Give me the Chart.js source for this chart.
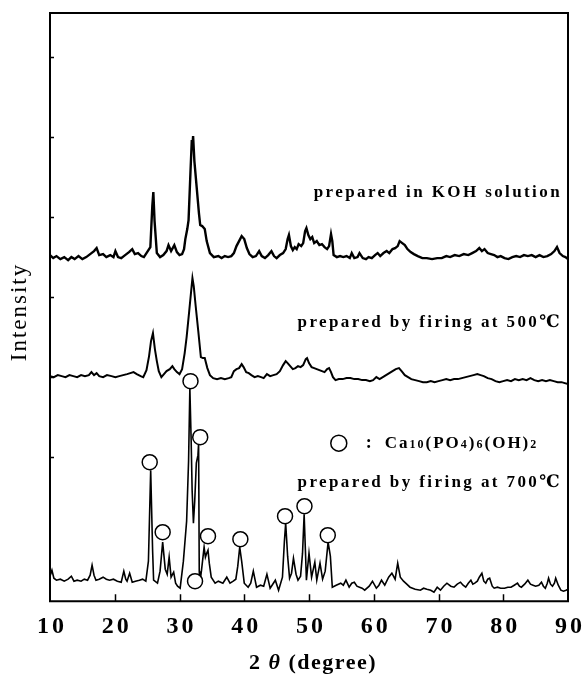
<!DOCTYPE html>
<html>
<head>
<meta charset="utf-8">
<script src="https://cdn.jsdelivr.net/npm/chart.js@4.4.0/dist/chart.umd.min.js"></script>
<style>
  html, body { margin: 0; padding: 0; background: #fff; }
  #wrap { width: 584px; height: 675px; }
</style>
</head>
<body>
<div id="wrap"><canvas id="xrd" width="584" height="675"></canvas></div>
<script>
// 2θ (deg), intensity (arb. units, curves already stacked as in the figure)
const kohPattern = [
  [10.0,346],[10.5,343],[11.0,345],[11.6,342],[12.2,344],[12.8,341],[13.3,344],[13.8,342],[14.4,345],[15.0,342],
  [15.6,344],[16.2,347],[16.8,350],[17.2,353],[17.6,346],[18.2,347],[18.7,344],[19.3,346],[19.8,344],[20.1,350],
  [20.5,344],[21.0,343],[21.6,346],[22.2,349],[22.7,352],[23.1,347],[23.6,348],[24.1,345],[24.5,344],[25.0,349],
  [25.5,354],[25.8,395],[25.96,409],[26.15,380],[26.5,348],[27.0,344],[27.5,346],[28.0,350],[28.3,356],[28.7,350],
  [29.2,356],[29.6,349],[30.0,346],[30.4,347],[30.7,352],[30.9,362],[31.2,372],[31.4,381],[31.7,430],[31.9,461],
  [32.0,455],[32.1,465],[32.3,440],[32.65,414],[33.0,388],[33.2,376],[33.5,375],[33.9,372],[34.2,360],[34.7,348],
  [35.3,344],[36.0,345],[36.5,343],[37.0,345],[37.5,344],[38.0,345],[38.4,348],[38.8,355],[39.2,360],[39.6,365],
  [40.0,362],[40.4,353],[40.8,347],[41.3,344],[41.8,345],[42.3,350],[42.7,345],[43.2,343],[43.7,346],[44.2,350],
  [44.6,345],[45.0,343],[45.5,346],[46.0,348],[46.4,352],[46.7,362],[46.9,366],[47.2,355],[47.5,351],[47.8,354],
  [48.1,352],[48.4,357],[48.8,355],[49.1,358],[49.4,370],[49.6,373],[49.9,366],[50.2,362],[50.5,364],[50.8,358],
  [51.2,360],[51.6,356],[52.0,357],[52.4,354],[52.8,352],[53.1,355],[53.4,367],[53.6,360],[53.8,346],[54.3,344],
  [54.8,345],[55.3,344],[55.8,345],[56.3,343],[56.6,348],[57.0,343],[57.5,344],[57.8,348],[58.3,343],[58.8,342],
  [59.2,344],[59.7,343],[60.2,346],[60.6,348],[61.0,345],[61.5,348],[62.0,350],[62.4,348],[62.9,352],[63.3,353],
  [63.7,355],[64.0,360],[64.4,358],[64.8,356],[65.2,352],[65.7,349],[66.2,347],[66.8,345],[67.5,343],[68.2,343],
  [69.0,342],[69.8,343],[70.5,343],[71.2,345],[71.8,344],[72.5,346],[73.2,345],[73.9,347],[74.6,346],[75.2,348],
  [75.8,350],[76.3,353],[76.7,350],[77.1,352],[77.6,348],[78.1,347],[78.6,346],[79.1,344],[79.6,345],[80.2,343],
  [80.8,342],[81.4,344],[82.0,345],[82.6,344],[83.2,346],[83.8,345],[84.4,346],[85.0,344],[85.6,346],[86.2,344],
  [86.8,345],[87.4,347],[87.9,350],[88.3,354],[88.7,348],[89.2,345],[89.6,344],[90.0,342]
];

const fired500Pattern = [
  [10.0,225],[10.6,224],[11.2,226],[11.8,225],[12.4,224],[13.0,226],[13.6,225],[14.2,224],[14.8,226],[15.4,225],
  [16.0,226],[16.4,229],[16.8,226],[17.2,228],[17.6,225],[18.2,224],[18.8,226],[19.5,225],[20.1,224],[20.7,225],
  [21.3,226],[21.9,227],[22.4,228],[22.9,229],[23.4,227],[24.0,225],[24.4,224],[24.9,231],[25.3,245],[25.6,260],
  [25.9,268],[26.2,252],[26.5,240],[26.8,230],[27.2,224],[27.6,227],[28.0,230],[28.5,232],[28.9,235],[29.2,232],
  [29.6,229],[30.0,227],[30.4,232],[30.8,248],[31.1,264],[31.5,290],[31.8,310],[32.0,323],[32.2,315],[32.5,295],
  [32.9,270],[33.3,244],[33.6,243],[33.9,243],[34.3,233],[34.7,226],[35.2,223],[35.8,222],[36.4,223],[37.0,222],
  [37.6,223],[38.0,224],[38.4,230],[38.8,232],[39.2,233],[39.6,237],[39.9,234],[40.3,229],[40.7,228],[41.1,226],
  [41.6,224],[42.1,225],[42.6,224],[43.0,223],[43.5,227],[44.0,225],[44.5,226],[45.0,227],[45.5,230],[46.0,236],
  [46.4,240],[46.7,238],[47.1,235],[47.5,232],[47.9,233],[48.3,235],[48.7,234],[49.1,236],[49.5,242],[49.7,243],
  [50.0,238],[50.4,234],[50.8,233],[51.2,232],[51.6,231],[52.0,230],[52.4,229],[52.8,232],[53.1,233],[53.4,229],
  [53.7,224],[54.1,221],[54.6,222],[55.2,222],[55.8,223],[56.4,223],[57.0,222],[57.6,222],[58.2,221],[58.8,221],
  [59.4,220],[59.9,221],[60.4,224],[60.9,222],[61.4,224],[61.9,226],[62.4,228],[62.9,230],[63.4,232],[63.9,233],
  [64.3,230],[64.8,226],[65.3,224],[65.8,222],[66.4,221],[67.0,220],[67.6,219],[68.2,219],[68.8,220],[69.4,219],
  [70.0,220],[70.6,221],[71.2,222],[71.8,221],[72.4,222],[73.0,222],[73.6,223],[74.2,224],[74.8,225],[75.4,226],
  [76.0,227],[76.5,226],[77.0,225],[77.6,223],[78.2,222],[78.8,220],[79.4,219],[80.0,220],[80.6,221],[81.2,220],
  [81.8,222],[82.4,221],[83.0,222],[83.6,221],[84.2,223],[84.8,221],[85.4,220],[86.0,221],[86.6,220],[87.2,221],
  [87.8,220],[88.4,219],[89.0,219],[89.5,218],[90.0,217]
];

const fired700Pattern = [
  [10.0,25],[10.3,31],[10.6,23],[11.0,21],[11.6,22],[12.2,20],[12.8,22],[13.3,25],[13.7,20],[14.2,21],
  [14.8,20],[15.3,22],[15.8,21],[16.2,26],[16.5,36],[16.8,26],[17.1,21],[17.6,22],[18.2,24],[18.7,22],
  [19.2,21],[19.8,22],[20.4,20],[21.0,19],[21.4,30],[21.7,22],[21.9,20],[22.3,28],[22.7,19],[23.2,20],
  [23.8,21],[24.3,22],[24.8,20],[25.2,40],[25.55,131],[25.85,50],[26.0,21],[26.6,18],[27.0,30],[27.4,59],
  [27.8,32],[28.1,27],[28.4,44],[28.7,24],[29.1,29],[29.4,18],[29.7,15],[30.1,13],[30.6,40],[31.1,80],
  [31.4,140],[31.6,213],[31.8,161],[31.95,111],[32.15,78],[32.35,100],[32.6,138],[32.85,146],[32.95,158],[33.05,30],
  [33.15,18],[33.4,31],[33.8,54],[34.0,44],[34.2,48],[34.4,51],[34.6,38],[34.9,24],[35.5,18],[36.0,20],
  [36.7,18],[37.3,24],[37.8,18],[38.3,20],[38.7,22],[39.0,35],[39.3,54],[39.6,40],[40.0,18],[40.6,14],
  [41.0,18],[41.4,30],[41.9,14],[42.5,16],[43.0,15],[43.5,27],[44.0,13],[44.4,17],[44.8,21],[45.3,11],
  [45.9,24],[46.2,60],[46.4,78],[46.7,45],[47.0,23],[47.3,28],[47.6,43],[48.0,27],[48.3,21],[48.7,25],
  [49.0,48],[49.25,87],[49.45,50],[49.6,21],[50.0,48],[50.4,24],[50.9,39],[51.2,21],[51.7,38],[52.1,22],
  [52.5,30],[52.95,59],[53.3,45],[53.6,14],[54.2,16],[54.9,18],[55.3,16],[55.7,21],[56.2,14],[56.6,18],
  [57.0,19],[57.4,15],[57.8,14],[58.2,13],[58.6,11],[59.3,15],[59.8,20],[60.4,13],[60.8,16],[61.2,21],
  [61.7,16],[62.3,24],[62.8,28],[63.3,22],[63.7,38],[64.1,24],[64.6,20],[65.1,17],[65.6,14],[66.4,12],
  [67.2,11],[67.7,13],[68.2,12],[68.8,11],[69.3,9],[69.8,14],[70.3,11],[70.8,15],[71.3,18],[71.9,15],
  [72.4,14],[72.9,17],[73.4,19],[73.8,16],[74.2,14],[74.6,18],[75.0,21],[75.3,17],[75.6,18],[76.0,20],
  [76.3,24],[76.7,28],[77.0,20],[77.3,18],[77.6,22],[77.9,23],[78.3,15],[78.6,13],[79.1,14],[79.6,13],
  [80.2,13],[80.7,14],[81.2,14],[81.7,16],[82.2,18],[82.5,15],[82.8,14],[83.3,17],[83.8,21],[84.2,17],
  [84.6,16],[85.0,15],[85.5,16],[85.9,19],[86.2,15],[86.5,13],[86.8,18],[87.0,23],[87.3,17],[87.6,15],
  [87.9,18],[88.1,23],[88.5,16],[88.9,11],[89.3,10],[89.7,11],[90.0,12]
];

// ○ = Ca10(PO4)6(OH)2 reflections, marked on the 700 ℃ pattern
const hapMarks = [
  [25.4,139],[27.4,69],[31.7,220],[33.2,164],[34.4,65],[32.4,20],[39.4,62],[46.3,85],[49.3,95],[52.9,66]
];

const xTicks = [10, 20, 30, 40, 50, 60, 70, 80, 90];
const xInnerTicks = [20, 30, 40, 50, 60, 70, 80];
const yInnerTicks = [144, 224, 304, 384, 464, 544];

const curveLabels = [
  { text: 'prepared in KOH solution', y: 408 },
  { text: 'prepared by firing at 500\u2103', y: 278 },
  { text: 'prepared by firing at 700\u2103', y: 119 }
];
const legendY = 158;

const SERIF = '"Liberation Serif", "DejaVu Serif", serif';
const toPts = arr => arr.map(p => ({ x: p[0], y: p[1] }));

// box, inner ticks and the text inside the plot
const decorations = {
  id: 'decorations',
  beforeDraw(chart) {
    // spaced-out tick numbers like the original print
    chart.ctx.letterSpacing = '3px';
  },
  afterDraw(chart) {
    const ctx = chart.ctx;
    const a = chart.chartArea;
    const xs = chart.scales.x, ys = chart.scales.y;
    ctx.save();
    ctx.letterSpacing = '0px';
    ctx.strokeStyle = '#000';
    ctx.lineWidth = 2;
    ctx.beginPath();
    ctx.moveTo(a.left, a.top);
    ctx.lineTo(a.right, a.top);
    ctx.lineTo(a.right, a.bottom);
    ctx.lineTo(a.left, a.bottom);
    ctx.closePath();
    ctx.stroke();

    ctx.lineWidth = 1.5;
    ctx.beginPath();
    xInnerTicks.forEach(v => {
      const px = Math.round(xs.getPixelForValue(v)) + 0.5;
      ctx.moveTo(px, a.bottom);
      ctx.lineTo(px, a.bottom - 7);
    });
    yInnerTicks.forEach(v => {
      const py = Math.round(ys.getPixelForValue(v)) + 0.5;
      ctx.moveTo(a.left, py);
      ctx.lineTo(a.left + 4, py);
    });
    ctx.stroke();

    ctx.fillStyle = '#000';
    ctx.textBaseline = 'middle';

    // curve captions, right aligned
    ctx.font = 'bold 17px ' + SERIF;
    ctx.letterSpacing = '2.4px';
    ctx.textAlign = 'right';
    curveLabels.forEach(l => {
      ctx.fillText(l.text, a.right - 6, ys.getPixelForValue(l.y));
    });

    // legend: ○ : Ca10(PO4)6(OH)2
    const ly = ys.getPixelForValue(legendY);
    const lx = xs.getPixelForValue(54.6);
    ctx.letterSpacing = '0px';
    ctx.lineWidth = 1.5;
    ctx.beginPath();
    ctx.arc(lx, ly, 8, 0, Math.PI * 2);
    ctx.fillStyle = '#fff';
    ctx.fill();
    ctx.stroke();
    ctx.fillStyle = '#000';
    ctx.textAlign = 'left';
    ctx.font = 'bold 18px ' + SERIF;
    ctx.fillText(':', lx + 27, ly);
    const runs = [
      ['Ca', false], ['10', true], ['(PO', false], ['4', true], [')', false],
      ['6', true], ['(OH)', false], ['2', true]
    ];
    let cx = lx + 46;
    ctx.letterSpacing = '2px';
    runs.forEach(r => {
      ctx.font = r[1] ? 'bold 12px ' + SERIF : 'bold 17px ' + SERIF;
      ctx.fillText(r[0], cx, r[1] ? ly + 2 : ly);
      cx += ctx.measureText(r[0]).width;
    });

    // axis titles
    ctx.letterSpacing = '2px';
    ctx.save();
    ctx.translate(20, 312);
    ctx.rotate(-Math.PI / 2);
    ctx.textAlign = 'center';
    ctx.font = '23px ' + SERIF;
    ctx.fillText('Intensity', 0, 0);
    ctx.restore();

    ctx.letterSpacing = '1.5px';
    const tParts = [['2 ', 'bold 22px '], ['\u03b8', 'italic bold 22px '], [' (degree)', 'bold 22px ']];
    let total = 0;
    tParts.forEach(p => { ctx.font = p[1] + SERIF; total += ctx.measureText(p[0]).width; });
    let tx = 313 - total / 2;
    ctx.textAlign = 'left';
    tParts.forEach(p => {
      ctx.font = p[1] + SERIF;
      ctx.fillText(p[0], tx, 663);
      tx += ctx.measureText(p[0]).width;
    });
    ctx.restore();
  }
};

new Chart(document.getElementById('xrd'), {
  type: 'line',
  data: {
    datasets: [
      {
        type: 'scatter', label: 'Ca10(PO4)6(OH)2', data: toPts(hapMarks), order: 0,
        pointRadius: 7.5, pointBorderWidth: 1.5, pointBackgroundColor: '#fff', pointBorderColor: '#000', showLine: false
      },
      { label: 'KOH solution', data: toPts(kohPattern), borderColor: '#000', borderWidth: 2.4, pointRadius: 0, order: 1 },
      { label: '500 °C', data: toPts(fired500Pattern), borderColor: '#000', borderWidth: 2, pointRadius: 0, order: 1 },
      { label: '700 °C', data: toPts(fired700Pattern), borderColor: '#000', borderWidth: 1.6, pointRadius: 0, order: 1 }
    ]
  },
  options: {
    responsive: false,
    animation: false,
    events: [],
    layout: { padding: { left: 50, right: 16, top: 13, bottom: 23 } },
    plugins: { legend: { display: false }, tooltip: { enabled: false } },
    scales: {
      x: {
        type: 'linear', min: 10, max: 90,
        afterBuildTicks: s => { s.ticks = xTicks.map(v => ({ value: v })); },
        afterFit: s => { s.paddingLeft = 0; s.paddingRight = 0; },
        grid: { display: false, drawTicks: false },
        border: { display: false },
        ticks: {
          color: '#000', padding: 11, maxRotation: 0, autoSkip: false, labelOffset: 2,
          font: { family: SERIF, size: 24, weight: 'bold' }
        }
      },
      y: { type: 'linear', min: 0, max: 588, display: false }
    }
  },
  plugins: [decorations]
});
</script>
</body>
</html>
